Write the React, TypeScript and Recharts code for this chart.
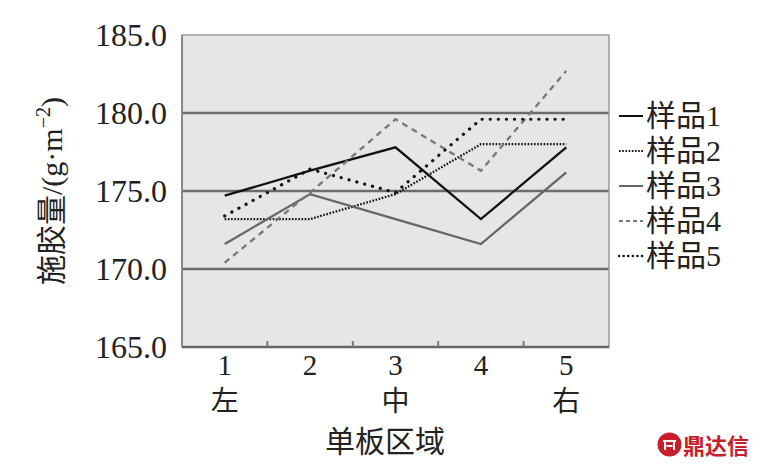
import React from 'react';
import { LineChart, Line, XAxis, YAxis, CartesianGrid, ReferenceArea, Legend, Label } from 'recharts';

const categories = ['1', '2', '3', '4', '5'];
const regionLabels = ['左', '', '中', '', '右'];
const sample1 = [174.7, 176.3, 177.8, 173.2, 177.8];
const sample2 = [173.2, 173.2, 174.8, 178.0, 178.0];
const sample3 = [171.6, 174.8, 173.2, 171.6, 176.2];
const sample4 = [170.4, 174.9, 179.6, 176.3, 182.7];
const sample5 = [173.4, 176.4, 174.9, 179.6, 179.6];
const yTicks = [165, 170, 175, 180, 185];
const seriesNames = ['样品1', '样品2', '样品3', '样品4', '样品5'];

const data = categories.map((c, i) => ({
  x: i + 1,
  cat: c,
  region: regionLabels[i],
  s1: sample1[i],
  s2: sample2[i],
  s3: sample3[i],
  s4: sample4[i],
  s5: sample5[i],
}));

const FONT = "Liberation Serif, Times New Roman, DejaVu Serif, Noto Sans CJK SC, serif";

const seriesStyle = [
  { key: 's1', stroke: '#111', dash: undefined, width: 2.3, cap: 'butt' },
  { key: 's2', stroke: '#111', dash: '1.6 1.6', width: 2.3, cap: 'butt' },
  { key: 's3', stroke: '#666', dash: undefined, width: 2.3, cap: 'butt' },
  { key: 's4', stroke: '#777', dash: '6 5', width: 2.3, cap: 'butt' },
  { key: 's5', stroke: '#111', dash: '0.1 8', width: 3.2, cap: 'round' },
];

const XTick = (props: any) => {
  const { x, y, payload } = props;
  const idx = Math.round(payload.value) - 1;
  return (
    <g>
      <text x={x} y={y + 20} textAnchor="middle" fontSize={29} fontFamily={FONT} fill="#222">
        {categories[idx]}
      </text>
      <text x={x} y={y + 56} textAnchor="middle" fontSize={28} fontFamily={FONT} fill="#222">
        {regionLabels[idx]}
      </text>
    </g>
  );
};

const LegendContent = () => (
  <div style={{ fontFamily: FONT, fontSize: 30, color: '#222', lineHeight: '35px' }}>
    {seriesStyle.map((s, i) => (
      <div key={s.key} style={{ display: 'flex', alignItems: 'center', height: 35 }}>
        <svg width={26} height={10} style={{ marginRight: 2 }}>
          <line x1={1} y1={5} x2={25} y2={5} stroke={s.stroke} strokeWidth={s.key === 's5' ? 2.5 : 2}
            strokeDasharray={s.key === 's5' ? '0.1 4.5' : s.key === 's2' ? '1.6 1.6' : s.key === 's4' ? '4 3' : undefined}
            strokeLinecap={s.cap as any} />
        </svg>
        <span>{seriesNames[i]}</span>
      </div>
    ))}
  </div>
);

export default function App() {
  return (
    <div style={{ position: 'absolute', left: 0, top: 0, width: 760, height: 466, background: '#fff' }}>
      <LineChart width={760} height={466} data={data} margin={{ top: 35, right: 11, bottom: 0, left: 0 }}>
        <CartesianGrid fill="#e6e6e6" vertical={false} horizontalValues={[170, 175, 180]} stroke="#6c6c6c" strokeWidth={2.6} strokeOpacity={1} />
        <ReferenceArea x1={0.5} x2={5.5} y1={165} y2={185} fill="none" stroke="#9a9a9a" strokeWidth={1.5} ifOverflow="extendDomain" />
        <XAxis dataKey="x" type="number" domain={[0.5, 5.5]} ticks={[1, 2, 3, 4, 5]} allowDecimals
          height={119} tickLine={false} axisLine={{ stroke: '#666', strokeWidth: 2.6 }} tick={<XTick />} interval={0}>
          <Label content={() => (
            <text x={385} y={452} textAnchor="middle" fontSize={30} fontFamily={FONT} fill="#222">单板区域</text>
          )} />
        </XAxis>
        <XAxis xAxisId="edge" dataKey="x" type="number" domain={[0.5, 5.5]} ticks={[1.5, 2.5, 3.5, 4.5]} mirror
          tickSize={6} tickLine={{ stroke: '#777', strokeWidth: 2 }} axisLine={false} tick={() => <g />} interval={0} />
        <YAxis type="number" domain={[165, 185]} ticks={yTicks} width={182} tickSize={0} tickMargin={15}
          tickFormatter={(v: number) => v.toFixed(1)} axisLine={{ stroke: '#888', strokeWidth: 2 }} interval={0}
          tick={{ fontSize: 32, fontFamily: FONT, fill: '#222' }}>
          <Label content={() => (
            <text x={62} y={191} transform="rotate(-90 62 191)" textAnchor="middle" fontSize={30} fontFamily={FONT} fill="#222">
              施胶量/(g·m<tspan fontSize={20} dy={-12}>−2</tspan><tspan dy={12}>)</tspan>
            </text>
          )} />
        </YAxis>
        <Legend layout="vertical" align="right" verticalAlign="middle" content={<LegendContent />}
          wrapperStyle={{ width: 140, left: 618, top: 98, right: 'auto' }} />
        {seriesStyle.map((s, i) => (
          <Line key={s.key} dataKey={s.key} name={seriesNames[i]} stroke={s.stroke} strokeWidth={s.width}
            strokeDasharray={s.dash} strokeLinecap={s.cap as any} dot={false} activeDot={false}
            isAnimationActive={false} type="linear" />
        ))}
      </LineChart>
      <div style={{ position: 'absolute', left: 657, top: 431, display: 'flex', alignItems: 'center', color: '#c8202a', fontWeight: 'bold', fontSize: 22, lineHeight: '26px', fontFamily: "'Noto Sans CJK SC', sans-serif" }}>
        <svg width={25} height={25} style={{ marginRight: 1 }}>
          <circle cx={12.5} cy={12.5} r={12} fill="#c8202a" />
          <path d="M6 9 H19 M8 9 V18 M17 9 V18 M9.5 14 H15.5" stroke="#fff" strokeWidth={2} fill="none" />
        </svg>
        <span>鼎达信</span>
      </div>
    </div>
  );
}
